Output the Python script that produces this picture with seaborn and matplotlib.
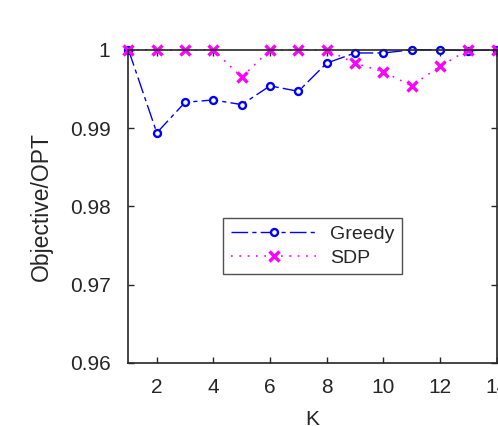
import numpy as np
import pandas as pd
import seaborn as sns
import matplotlib
matplotlib.use("Agg")
import matplotlib.pyplot as plt

k_values = [1, 2, 3, 4, 5, 6, 7, 8, 9, 10, 11, 12, 13, 14]
greedy = [1.0, 0.9894, 0.9933, 0.9936, 0.9930, 0.9954, 0.9947, 0.9983,
          0.9996, 0.9996, 1.0, 1.0, 0.9999, 1.0]
sdp = [1.0, 1.0, 1.0, 1.0, 0.9965, 1.0, 1.0, 1.0,
       0.9983, 0.9972, 0.9954, 0.9979, 1.0, 1.0]
x_ticks = [2, 4, 6, 8, 10, 12, 14]
y_ticks = [0.96, 0.97, 0.98, 0.99, 1.0]
y_tick_labels = ["0.96", "0.97", "0.98", "0.99", "1"]

sns.set_style("ticks")
plt.rcParams["font.family"] = ["Liberation Sans", "DejaVu Sans"]
plt.rcParams["xtick.direction"] = "in"
plt.rcParams["ytick.direction"] = "in"

df = pd.DataFrame({"K": k_values, "Greedy": greedy, "SDP": sdp})

fig = plt.figure(figsize=(4.98, 4.26), dpi=100)
ax = fig.add_axes([0.258, 0.148, 0.739, 0.735])

sns.lineplot(data=df, x="K", y="Greedy", ax=ax, color="blue", linestyle=(0, (12, 3, 3, 3)),
             linewidth=1.0, marker="o", markersize=5, markerfacecolor="white",
             markeredgecolor="blue", markeredgewidth=1.7, label="Greedy", clip_on=False)
sns.lineplot(data=df, x="K", y="SDP", ax=ax, color="magenta", linestyle=(0, (1, 4)),
             linewidth=1.2, marker="x", markersize=7, markeredgewidth=2.4,
             markeredgecolor="magenta", markerfacecolor="magenta",
             label="SDP", clip_on=False)

ax.set_xlim(1, 14)
ax.set_ylim(0.96, 1.0)
ax.set_xticks(x_ticks)
ax.set_yticks(y_ticks)
ax.set_yticklabels(y_tick_labels)
ax.tick_params(labelsize=15, colors="#262626", length=4, width=1,
               top=True, right=True)
ax.tick_params(axis="y", pad=13)
ax.tick_params(axis="x", pad=11)
ax.set_xlabel("K", fontsize=15, color="#262626", labelpad=9)
ax.set_ylabel("Objective/OPT", fontsize=16.5, color="#262626", labelpad=12)
for s in ax.spines.values():
    s.set_color("#262626")
    s.set_linewidth(1.2)

leg = ax.legend(loc="center", bbox_to_anchor=(0.5, 0.373), fontsize=14,
                frameon=True, fancybox=False, edgecolor="#262626",
                handlelength=4.4, handletextpad=0.7, borderpad=0.4,
                labelspacing=0.3)
leg.get_frame().set_linewidth(1.0)

fig.savefig("out.png", dpi=100)
